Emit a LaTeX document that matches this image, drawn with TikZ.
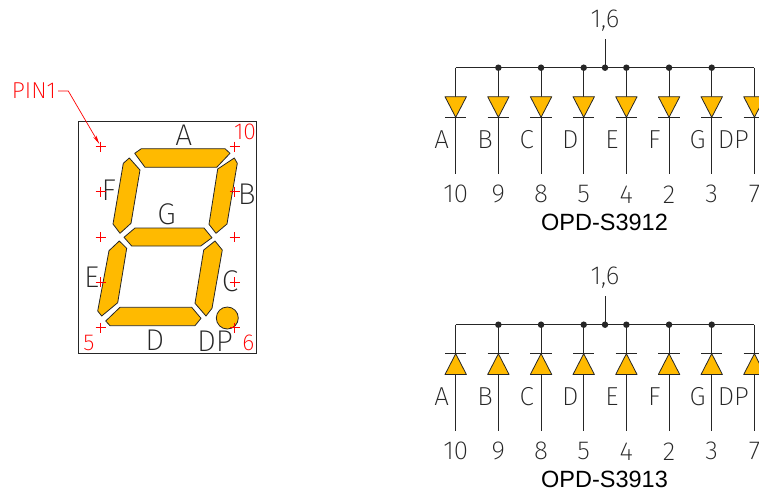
\documentclass[tikz,border=0pt]{standalone}
\usepackage{fontspec}
\usetikzlibrary{arrows.meta}
\setmainfont{Liberation Sans}
\newfontfamily\cadfont{Fira Sans ExtraLight}
\definecolor{ledAmber}{HTML}{FFBA00}
\definecolor{cadInk}{HTML}{262626}
\newcommand{\cadSize}[1]{\fontsize{#1}{#1}\selectfont\cadfont}

\begin{document}
\begin{tikzpicture}[x=1pt, y=-1pt, line width=0.9pt, cadInk]
  \tikzset{
    segment/.style={draw=cadInk, fill=ledAmber, line width=0.8pt, line join=round},
    bigLabel/.style={inner sep=0pt, text=cadInk, font=\cadSize{30}},
    wireLabel/.style={inner sep=0pt, text=cadInk, font=\cadSize{26}},
    redLabel/.style={inner sep=0pt, text=red, font=\cadSize{23}},
    partLabel/.style={inner sep=0pt, text=black, font=\fontsize{23.5}{24}\selectfont},
    junction/.style={circle, fill=cadInk, inner sep=0pt, minimum size=6.5pt}
  }
  \clip (0,0) rectangle (759,491);

  % display package
  \draw (78.7,121.7) rectangle (256.3,353);
  \draw[segment] (134.7,153.3) -- (141.3,148.7) -- (225,148.7) -- (230,153.3) -- (216.7,167.3) -- (145,167.3) -- cycle;
  \draw[segment] (209,224.3) -- (217.7,169) -- (234.3,158) -- (237.3,163.3) -- (227,224) -- (216,233.3) -- cycle;
  \draw[segment] (123.3,163.3) -- (129.3,158) -- (140,170) -- (131,223.3) -- (120,233.3) -- (113,224) -- cycle;
  \draw[segment] (124,237.3) -- (135,228) -- (204,228) -- (212,237.7) -- (200.7,246) -- (131.7,246) -- cycle;
  \draw[segment] (109,250.7) -- (119.3,241) -- (126.7,248.3) -- (117.7,302.7) -- (101.7,316) -- (97.7,311) -- cycle;
  \draw[segment] (203.7,250) -- (215,241) -- (222.3,250) -- (212,308.3) -- (206,316) -- (195,303.3) -- cycle;
  \draw[segment] (105.7,321) -- (120,307.3) -- (191.7,307.3) -- (201,318.3) -- (195,325.7) -- (110,325.7) -- cycle;
  \draw[segment] (227.3,318) circle (11);

  \node[bigLabel] (segA) at (183.7,135.7) {A};
  \node[bigLabel] (segB) at (246.7,194) {B};
  \node[bigLabel] (segC) at (230,281.7) {C};
  \node[bigLabel] (segD) at (154.7,340) {D};
  \node[bigLabel] (segE) at (91.7,277.7) {E};
  \node[bigLabel] (segF) at (108.7,190.7) {F};
  \node[bigLabel] (segG) at (166.7,214) {G};
  \node[bigLabel] (segDP) at (215,341) {DP};

  % pin marks
  \foreach \py in {146.7,191.7,237.3,282.3,327.7}
    \foreach \px in {100.7,234.7}
      \draw[red, line width=0.7pt] (\px-5,\py) -- (\px+5,\py) (\px,\py-5) -- (\px,\py+5);
  \coordinate (pinMark) at (99.3,144);
  \node[redLabel] (pinOne) at (34,91) {PIN1};
  \node[redLabel] (pinTen) at (245,132.3) {10};
  \node[redLabel] (pinFive) at (89,342.7) {5};
  \node[redLabel] (pinSix) at (248.3,342.7) {6};
  \draw[red, line width=0.7pt, -{Stealth[length=9pt,width=3.5pt]}] (pinOne.east) ++(1.5,0) -- (68.3,91) -- (pinMark);

  % the two schematics
  \foreach \s/\dy/\ybase/\ytip/\part in {1/0/96.7/117.3/OPD-S3912, 2/257/117.5/96.7/OPD-S3913} {
    \node[wireLabel] (common-\s) at (605,20.7+\dy) {1,6};
    \node[partLabel] (part-\s) at (604.5,222.3+\dy) {\part};
    \coordinate (stub-\s) at (605,39.3+\dy);
    \coordinate (tap-\s) at (605,67.7+\dy);
    \foreach \i/\seg/\segx/\pin in {0/A/441.7/10, 1/B/485/9, 2/C/526.7/8, 3/D/570.3/5, 4/E/612/4, 5/F/654.3/2, 6/G/697.7/3, 7/DP/733.3/7} {
      \pgfmathsetmacro{\wx}{455.7+42.67*\i}
      \coordinate (bus-\s-\i) at (\wx,67.7+\dy);
      \coordinate (end-\s-\i) at (\wx,174.3+\dy);
      \draw (bus-\s-\i) -- (end-\s-\i);
      \draw[segment] (\wx-10.7,\ybase+\dy) -- (\wx+10.7,\ybase+\dy) -- (\wx,\ytip+\dy) -- cycle;
      \draw (\wx-10.7,\ytip+\dy) -- (\wx+10.7,\ytip+\dy);
      \node[wireLabel] (seg-\s-\i) at (\segx,139.5+\dy) {\seg};
      \node[wireLabel] (pin-\s-\i) at (\wx,194.3+\dy) {\pin};
    }
    \draw (bus-\s-0) -- (bus-\s-7);
    \draw (stub-\s) -- (tap-\s);
    \node[junction] at (tap-\s) {};
    \foreach \i in {1,...,6}
      \node[junction] at (bus-\s-\i) {};
  }
\end{tikzpicture}
\end{document}
